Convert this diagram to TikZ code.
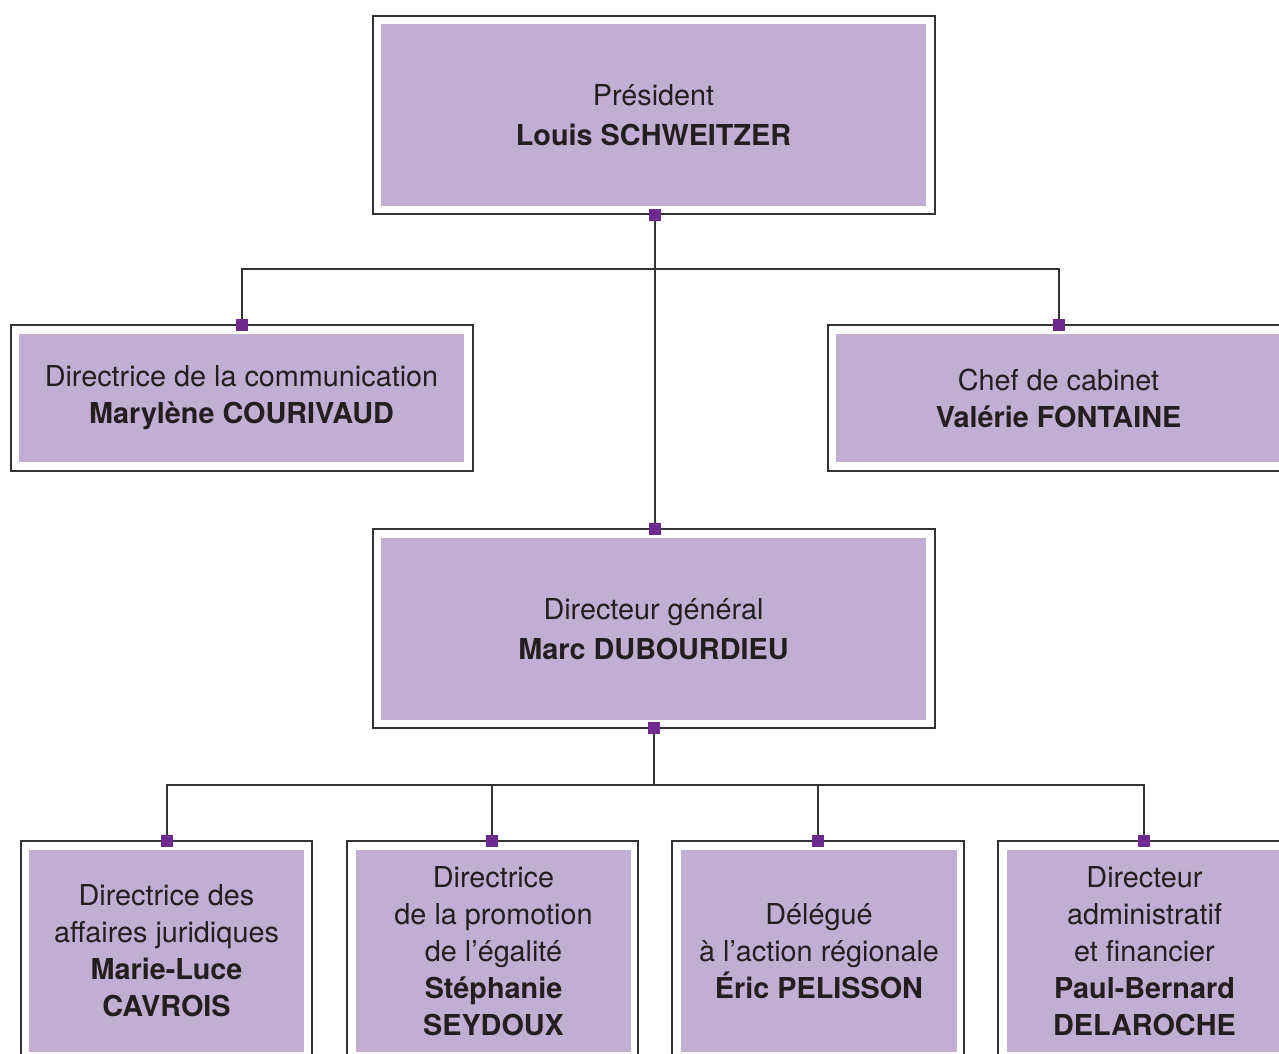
\documentclass[tikz,border=0pt]{standalone}
\usepackage{fontspec}
\setmainfont{TeX Gyre Heros}
\definecolor{lav}{HTML}{C3AED3}
\definecolor{purp}{HTML}{6F2A8F}
\definecolor{ink}{HTML}{231F20}
\definecolor{linec}{HTML}{333333}
\begin{document}
\begin{tikzpicture}[x=1pt,y=-1pt,
  frame/.style={draw=linec,line width=1.2pt,fill=white,inner sep=0pt,outer sep=0pt},
  inner/.style={fill=lav,inner sep=0pt,outer sep=0pt,text=ink,align=center,
    font=\fontsize{28.8}{37}\selectfont},
  bigtext/.style={font=\fontsize{28.8}{40}\selectfont},
  sq/.style={fill=purp,minimum size=12pt,inner sep=0pt,outer sep=0pt},
  conn/.style={draw=linec,line width=1.2pt}]
\useasboundingbox (0,0) rectangle (1279,1054);
\clip (0,0) rectangle (1279,1054);
% frames
\node[frame,minimum width=562pt,minimum height=198pt] (presF) at (654,115) {};
\node[frame,minimum width=462pt,minimum height=146pt] (comF) at (242,398) {};
\node[frame,minimum width=462pt,minimum height=146pt] (cabF) at (1059,398) {};
\node[frame,minimum width=562pt,minimum height=199pt] (dgF) at (654,628.5) {};
\node[frame,minimum width=291pt,minimum height=230pt] (b1F) at (166.5,956) {};
\node[frame,minimum width=291pt,minimum height=230pt] (b2F) at (492.5,956) {};
\node[frame,minimum width=292pt,minimum height=230pt] (b3F) at (818,956) {};
\node[frame,minimum width=291pt,minimum height=230pt] (b4F) at (1143.5,956) {};
% inner filled boxes
\node[inner,bigtext,minimum width=545pt,minimum height=182pt] (pres) at (653.5,115)
  {Président\\\textbf{Louis SCHWEITZER}};
\node[inner,minimum width=445pt,minimum height=128pt] (com) at (241.5,398)
  {Directrice de la communication\\\textbf{Marylène COURIVAUD}};
\node[inner,minimum width=445pt,minimum height=128pt] (cab) at (1058.5,398)
  {Chef de cabinet\\\textbf{Valérie FONTAINE}};
\node[inner,bigtext,minimum width=545pt,minimum height=182pt] (dg) at (653.5,629)
  {Directeur général\\\textbf{Marc DUBOURDIEU}};
\node[inner,minimum width=275pt,minimum height=202pt] (b1) at (166.5,951)
  {Directrice des\\affaires juridiques\\\textbf{Marie-Luce}\\\textbf{CAVROIS}};
\node[inner,minimum width=275pt,minimum height=202pt] (b2) at (493.5,951)
  {Directrice\\de la promotion\\de l’égalité\\\textbf{Stéphanie}\\\textbf{SEYDOUX}};
\node[inner,minimum width=276pt,minimum height=202pt] (b3) at (819,951)
  {Délégué\\à l’action régionale\\\textbf{Éric PELISSON}};
\node[inner,minimum width=275pt,minimum height=202pt] (b4) at (1144.5,951)
  {Directeur\\administratif\\et financier\\\textbf{Paul-Bernard}\\\textbf{DELAROCHE}};
% squares
\node[sq] (sP) at (655,215) {};
\node[sq] (sL) at (242,325) {};
\node[sq] (sR) at (1059,325) {};
\node[sq] (sDGt) at (655,529) {};
\node[sq] (sDGb) at (654,728) {};
\node[sq] (s1) at (167,841) {};
\node[sq] (s2) at (492,841) {};
\node[sq] (s3) at (818,841) {};
\node[sq] (s4) at (1144,841) {};
% junctions
\coordinate (j1) at (655,269);
\coordinate (j2) at (654,785);
% connectors
\draw[conn] (sP.south) -- (sDGt.north);
\draw[conn] (j1) -| (sL.north);
\draw[conn] (j1) -| (sR.north);
\draw[conn] (sDGb.south) -- (j2);
\draw[conn] (j2) -| (s1.north);
\draw[conn] (j2) -| (s2.north);
\draw[conn] (j2) -| (s3.north);
\draw[conn] (j2) -| (s4.north);
\end{tikzpicture}
\end{document}
